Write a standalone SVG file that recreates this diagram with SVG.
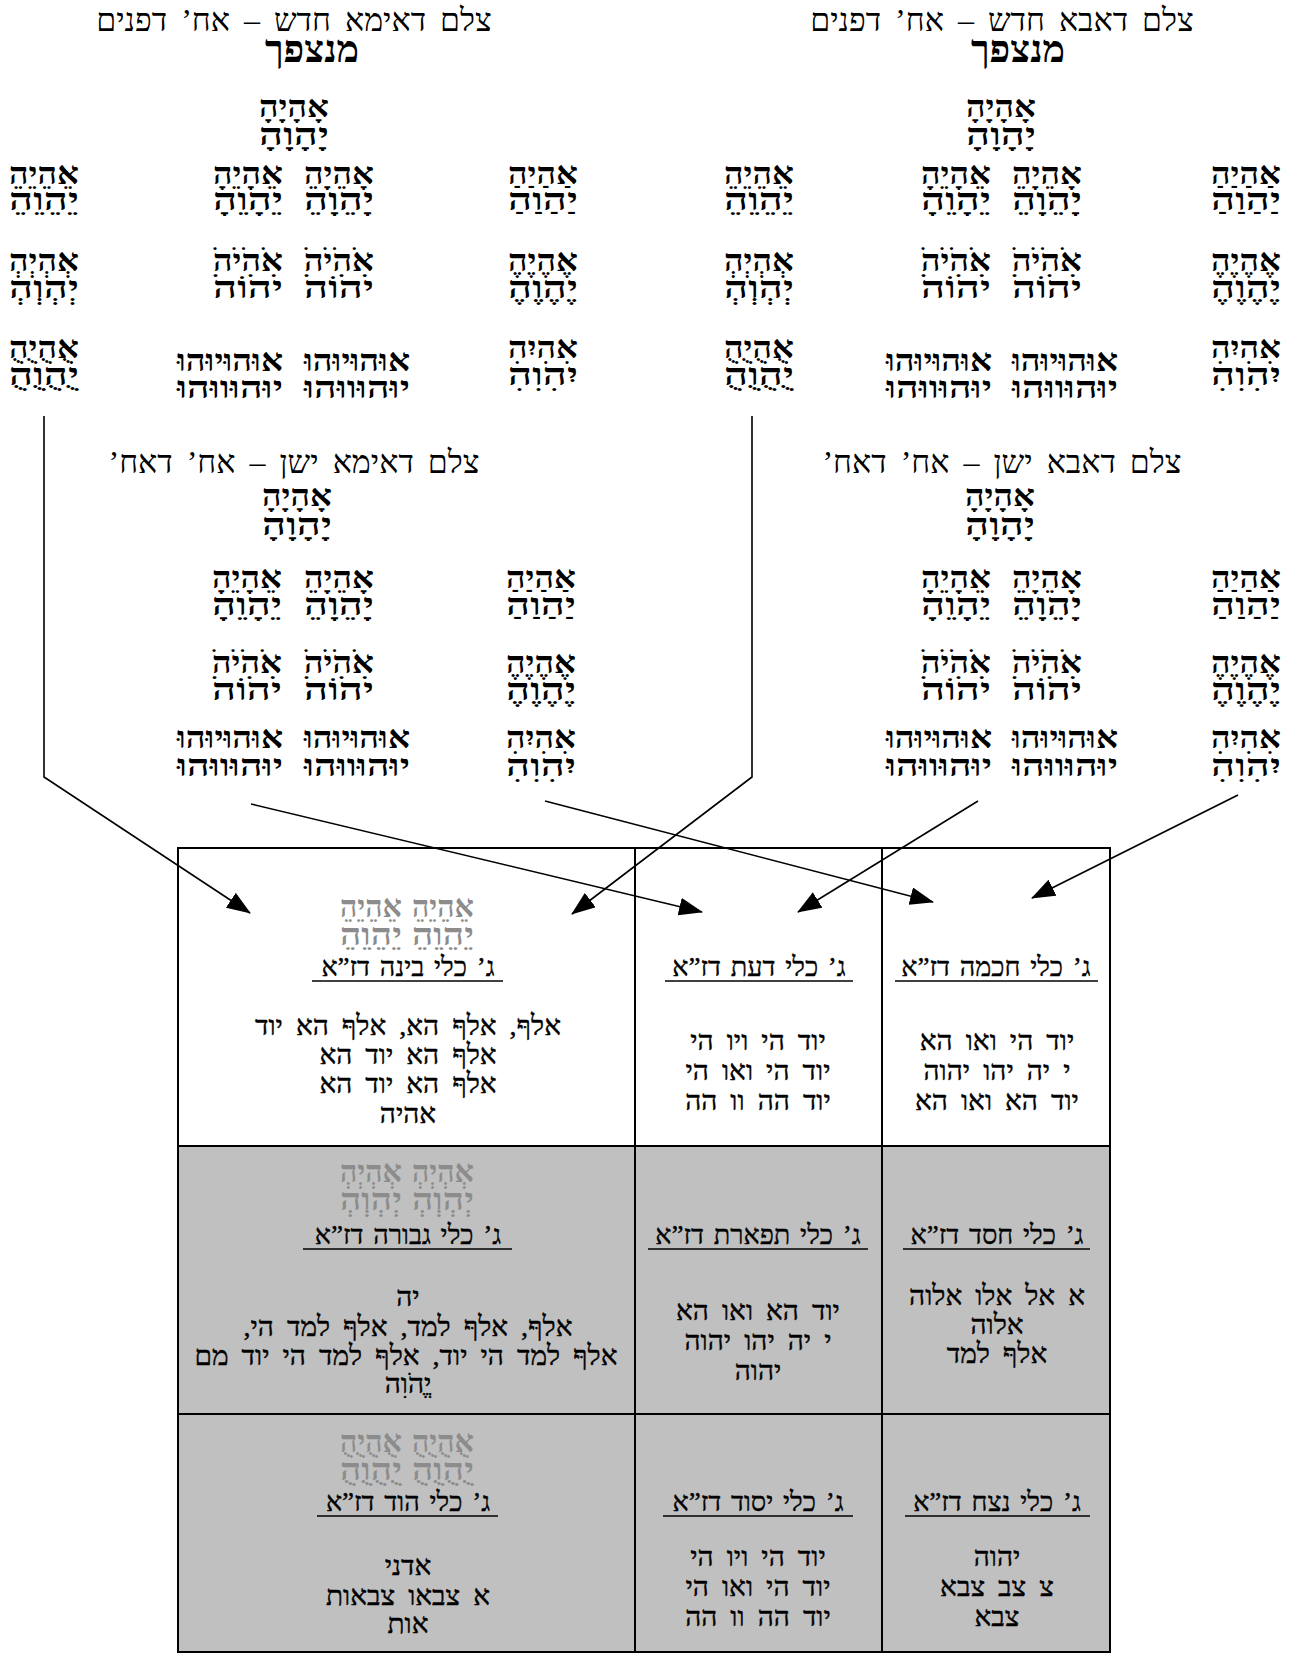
<svg xmlns="http://www.w3.org/2000/svg" width="1299" height="1658" viewBox="0 0 1299 1658">
<style>
text { direction: rtl; text-anchor: middle; font-family: "Liberation Serif", "DejaVu Serif", "DejaVu Sans", serif; fill: #000; }
.hdr { font-size: 32px; word-spacing: 6px; }
.mz { font-size: 38px; font-weight: bold; }
.nm { font-size: 31px; font-weight: bold; }
.ttl { font-size: 27px; word-spacing: 3px; stroke: #000; stroke-width: 0.35px; }
.bd { font-size: 28px; word-spacing: 6px; stroke: #000; stroke-width: 0.4px; }
.gr { fill: #8c8c8c; }
.ul { stroke: #000; stroke-width: 1.5; }
.cell { stroke: #000; stroke-width: 2; }
.con { fill: none; stroke: #000; stroke-width: 1.6; }
</style>
<defs>
<marker id="ah" markerUnits="userSpaceOnUse" markerWidth="24" markerHeight="18" refX="23" refY="9" orient="auto">
<path d="M0,0 L24,9 L0,18 z" fill="#000"/>
</marker>
</defs>
<rect width="1299" height="1658" fill="#fff"/>

<!-- Top-left: צלם דאימא חדש -->
<g id="tzelem-ima-chadash">
<text class="hdr" x="294" y="31">צלם דאימא חדש – אח’ דפנים</text>
<text class="mz" x="312" y="62">מנצפך</text>
<g id="ima-chadash-top"><text class="nm" x="294" y="117" textLength="70" lengthAdjust="spacingAndGlyphs">אָהָיָהָ</text><text class="nm" x="294" y="145" textLength="70" lengthAdjust="spacingAndGlyphs">יָהָוָהָ</text></g>
<g id="ima-chadash-r1l"><text class="nm" x="44" y="184" textLength="70" lengthAdjust="spacingAndGlyphs">אֵהֵיֵהֵ</text><text class="nm" x="44" y="210" textLength="70" lengthAdjust="spacingAndGlyphs">יֵהֵוֵהֵ</text></g>
<g id="ima-chadash-r1c"><text class="nm" x="339" y="184" textLength="70" lengthAdjust="spacingAndGlyphs">אָהֵיָהֵ</text><text class="nm" x="339" y="210" textLength="70" lengthAdjust="spacingAndGlyphs">יָהֵוָהֵ</text><text class="nm" x="248" y="184" textLength="70" lengthAdjust="spacingAndGlyphs">אֵהָיֵהָ</text><text class="nm" x="248" y="210" textLength="70" lengthAdjust="spacingAndGlyphs">יֵהָוֵהָ</text></g>
<g id="ima-chadash-r1r"><text class="nm" x="543" y="184" textLength="70" lengthAdjust="spacingAndGlyphs">אַהַיַהַ</text><text class="nm" x="543" y="210" textLength="70" lengthAdjust="spacingAndGlyphs">יַהַוַהַ</text></g>
<g id="ima-chadash-r2l"><text class="nm" x="44" y="271" textLength="70" lengthAdjust="spacingAndGlyphs">אְהְיְהְ</text><text class="nm" x="44" y="298" textLength="70" lengthAdjust="spacingAndGlyphs">יְהְוְהְ</text></g>
<g id="ima-chadash-r2c"><text class="nm" x="339" y="271" textLength="70" lengthAdjust="spacingAndGlyphs">אֹהֹיֹהֹ</text><text class="nm" x="339" y="298" textLength="70" lengthAdjust="spacingAndGlyphs">יֹהֹוֹהֹ</text><text class="nm" x="248" y="271" textLength="70" lengthAdjust="spacingAndGlyphs">אֹהֹיֹהֹ</text><text class="nm" x="248" y="298" textLength="70" lengthAdjust="spacingAndGlyphs">יֹהֹוֹהֹ</text></g>
<g id="ima-chadash-r2r"><text class="nm" x="543" y="271" textLength="70" lengthAdjust="spacingAndGlyphs">אֶהֶיֶהֶ</text><text class="nm" x="543" y="298" textLength="70" lengthAdjust="spacingAndGlyphs">יֶהֶוֶהֶ</text></g>
<g id="ima-chadash-r3l"><text class="nm" x="44" y="358" textLength="70" lengthAdjust="spacingAndGlyphs">אֻהֻיֻהֻ</text><text class="nm" x="44" y="385" textLength="70" lengthAdjust="spacingAndGlyphs">יֻהֻוֻהֻ</text></g>
<g id="ima-chadash-r3c"><text class="nm" x="357" y="371" textLength="106" lengthAdjust="spacingAndGlyphs">אוּהוּיוּהוּ</text><text class="nm" x="357" y="398" textLength="106" lengthAdjust="spacingAndGlyphs">יוּהוּווּהוּ</text><text class="nm" x="230" y="371" textLength="106" lengthAdjust="spacingAndGlyphs">אוּהוּיוּהוּ</text><text class="nm" x="230" y="398" textLength="106" lengthAdjust="spacingAndGlyphs">יוּהוּווּהוּ</text></g>
<g id="ima-chadash-r3r"><text class="nm" x="543" y="358" textLength="70" lengthAdjust="spacingAndGlyphs">אִהִיִהִ</text><text class="nm" x="543" y="385" textLength="70" lengthAdjust="spacingAndGlyphs">יִהִוִהִ</text></g>
</g>

<!-- Top-right: צלם דאבא חדש -->
<g id="tzelem-aba-chadash">
<text class="hdr" x="1002" y="31">צלם דאבא חדש – אח’ דפנים</text>
<text class="mz" x="1018" y="62">מנצפך</text>
<g id="aba-chadash-top"><text class="nm" x="1001" y="117" textLength="70" lengthAdjust="spacingAndGlyphs">אָהָיָהָ</text><text class="nm" x="1001" y="145" textLength="70" lengthAdjust="spacingAndGlyphs">יָהָוָהָ</text></g>
<g id="aba-chadash-r1l"><text class="nm" x="759" y="184" textLength="70" lengthAdjust="spacingAndGlyphs">אֵהֵיֵהֵ</text><text class="nm" x="759" y="210" textLength="70" lengthAdjust="spacingAndGlyphs">יֵהֵוֵהֵ</text></g>
<g id="aba-chadash-r1c"><text class="nm" x="1047" y="184" textLength="70" lengthAdjust="spacingAndGlyphs">אָהֵיָהֵ</text><text class="nm" x="1047" y="210" textLength="70" lengthAdjust="spacingAndGlyphs">יָהֵוָהֵ</text><text class="nm" x="956" y="184" textLength="70" lengthAdjust="spacingAndGlyphs">אֵהָיֵהָ</text><text class="nm" x="956" y="210" textLength="70" lengthAdjust="spacingAndGlyphs">יֵהָוֵהָ</text></g>
<g id="aba-chadash-r1r"><text class="nm" x="1246" y="184" textLength="70" lengthAdjust="spacingAndGlyphs">אַהַיַהַ</text><text class="nm" x="1246" y="210" textLength="70" lengthAdjust="spacingAndGlyphs">יַהַוַהַ</text></g>
<g id="aba-chadash-r2l"><text class="nm" x="759" y="271" textLength="70" lengthAdjust="spacingAndGlyphs">אְהְיְהְ</text><text class="nm" x="759" y="298" textLength="70" lengthAdjust="spacingAndGlyphs">יְהְוְהְ</text></g>
<g id="aba-chadash-r2c"><text class="nm" x="1047" y="271" textLength="70" lengthAdjust="spacingAndGlyphs">אֹהֹיֹהֹ</text><text class="nm" x="1047" y="298" textLength="70" lengthAdjust="spacingAndGlyphs">יֹהֹוֹהֹ</text><text class="nm" x="956" y="271" textLength="70" lengthAdjust="spacingAndGlyphs">אֹהֹיֹהֹ</text><text class="nm" x="956" y="298" textLength="70" lengthAdjust="spacingAndGlyphs">יֹהֹוֹהֹ</text></g>
<g id="aba-chadash-r2r"><text class="nm" x="1246" y="271" textLength="70" lengthAdjust="spacingAndGlyphs">אֶהֶיֶהֶ</text><text class="nm" x="1246" y="298" textLength="70" lengthAdjust="spacingAndGlyphs">יֶהֶוֶהֶ</text></g>
<g id="aba-chadash-r3l"><text class="nm" x="759" y="358" textLength="70" lengthAdjust="spacingAndGlyphs">אֻהֻיֻהֻ</text><text class="nm" x="759" y="385" textLength="70" lengthAdjust="spacingAndGlyphs">יֻהֻוֻהֻ</text></g>
<g id="aba-chadash-r3c"><text class="nm" x="1065" y="371" textLength="106" lengthAdjust="spacingAndGlyphs">אוּהוּיוּהוּ</text><text class="nm" x="1065" y="398" textLength="106" lengthAdjust="spacingAndGlyphs">יוּהוּווּהוּ</text><text class="nm" x="939" y="371" textLength="106" lengthAdjust="spacingAndGlyphs">אוּהוּיוּהוּ</text><text class="nm" x="939" y="398" textLength="106" lengthAdjust="spacingAndGlyphs">יוּהוּווּהוּ</text></g>
<g id="aba-chadash-r3r"><text class="nm" x="1246" y="358" textLength="70" lengthAdjust="spacingAndGlyphs">אִהִיִהִ</text><text class="nm" x="1246" y="385" textLength="70" lengthAdjust="spacingAndGlyphs">יִהִוִהִ</text></g>
</g>

<!-- Middle-left: צלם דאימא ישן -->
<g id="tzelem-ima-yashan">
<text class="hdr" x="294" y="473">צלם דאימא ישן – אח’ דאח’</text>
<g id="ima-yashan-top"><text class="nm" x="297" y="506" textLength="70" lengthAdjust="spacingAndGlyphs">אָהָיָהָ</text><text class="nm" x="297" y="535" textLength="70" lengthAdjust="spacingAndGlyphs">יָהָוָהָ</text></g>
<g id="ima-yashan-r1c"><text class="nm" x="339" y="588" textLength="70" lengthAdjust="spacingAndGlyphs">אָהֵיָהֵ</text><text class="nm" x="339" y="615" textLength="70" lengthAdjust="spacingAndGlyphs">יָהֵוָהֵ</text><text class="nm" x="247" y="588" textLength="70" lengthAdjust="spacingAndGlyphs">אֵהָיֵהָ</text><text class="nm" x="247" y="615" textLength="70" lengthAdjust="spacingAndGlyphs">יֵהָוֵהָ</text></g>
<g id="ima-yashan-r1r"><text class="nm" x="541" y="588" textLength="70" lengthAdjust="spacingAndGlyphs">אַהַיַהַ</text><text class="nm" x="541" y="615" textLength="70" lengthAdjust="spacingAndGlyphs">יַהַוַהַ</text></g>
<g id="ima-yashan-r2c"><text class="nm" x="339" y="673" textLength="70" lengthAdjust="spacingAndGlyphs">אֹהֹיֹהֹ</text><text class="nm" x="339" y="700" textLength="70" lengthAdjust="spacingAndGlyphs">יֹהֹוֹהֹ</text><text class="nm" x="247" y="673" textLength="70" lengthAdjust="spacingAndGlyphs">אֹהֹיֹהֹ</text><text class="nm" x="247" y="700" textLength="70" lengthAdjust="spacingAndGlyphs">יֹהֹוֹהֹ</text></g>
<g id="ima-yashan-r2r"><text class="nm" x="541" y="673" textLength="70" lengthAdjust="spacingAndGlyphs">אֶהֶיֶהֶ</text><text class="nm" x="541" y="700" textLength="70" lengthAdjust="spacingAndGlyphs">יֶהֶוֶהֶ</text></g>
<g id="ima-yashan-r3c"><text class="nm" x="357" y="748" textLength="106" lengthAdjust="spacingAndGlyphs">אוּהוּיוּהוּ</text><text class="nm" x="357" y="776" textLength="106" lengthAdjust="spacingAndGlyphs">יוּהוּווּהוּ</text><text class="nm" x="230" y="748" textLength="106" lengthAdjust="spacingAndGlyphs">אוּהוּיוּהוּ</text><text class="nm" x="230" y="776" textLength="106" lengthAdjust="spacingAndGlyphs">יוּהוּווּהוּ</text></g>
<g id="ima-yashan-r3r"><text class="nm" x="541" y="748" textLength="70" lengthAdjust="spacingAndGlyphs">אִהִיִהִ</text><text class="nm" x="541" y="776" textLength="70" lengthAdjust="spacingAndGlyphs">יִהִוִהִ</text></g>
</g>

<!-- Middle-right: צלם דאבא ישן -->
<g id="tzelem-aba-yashan">
<text class="hdr" x="1002" y="473">צלם דאבא ישן – אח’ דאח’</text>
<g id="aba-yashan-top"><text class="nm" x="1000" y="506" textLength="70" lengthAdjust="spacingAndGlyphs">אָהָיָהָ</text><text class="nm" x="1000" y="535" textLength="70" lengthAdjust="spacingAndGlyphs">יָהָוָהָ</text></g>
<g id="aba-yashan-r1c"><text class="nm" x="1047" y="588" textLength="70" lengthAdjust="spacingAndGlyphs">אָהֵיָהֵ</text><text class="nm" x="1047" y="615" textLength="70" lengthAdjust="spacingAndGlyphs">יָהֵוָהֵ</text><text class="nm" x="956" y="588" textLength="70" lengthAdjust="spacingAndGlyphs">אֵהָיֵהָ</text><text class="nm" x="956" y="615" textLength="70" lengthAdjust="spacingAndGlyphs">יֵהָוֵהָ</text></g>
<g id="aba-yashan-r1r"><text class="nm" x="1246" y="588" textLength="70" lengthAdjust="spacingAndGlyphs">אַהַיַהַ</text><text class="nm" x="1246" y="615" textLength="70" lengthAdjust="spacingAndGlyphs">יַהַוַהַ</text></g>
<g id="aba-yashan-r2c"><text class="nm" x="1047" y="673" textLength="70" lengthAdjust="spacingAndGlyphs">אֹהֹיֹהֹ</text><text class="nm" x="1047" y="700" textLength="70" lengthAdjust="spacingAndGlyphs">יֹהֹוֹהֹ</text><text class="nm" x="956" y="673" textLength="70" lengthAdjust="spacingAndGlyphs">אֹהֹיֹהֹ</text><text class="nm" x="956" y="700" textLength="70" lengthAdjust="spacingAndGlyphs">יֹהֹוֹהֹ</text></g>
<g id="aba-yashan-r2r"><text class="nm" x="1246" y="673" textLength="70" lengthAdjust="spacingAndGlyphs">אֶהֶיֶהֶ</text><text class="nm" x="1246" y="700" textLength="70" lengthAdjust="spacingAndGlyphs">יֶהֶוֶהֶ</text></g>
<g id="aba-yashan-r3c"><text class="nm" x="1065" y="748" textLength="106" lengthAdjust="spacingAndGlyphs">אוּהוּיוּהוּ</text><text class="nm" x="1065" y="776" textLength="106" lengthAdjust="spacingAndGlyphs">יוּהוּווּהוּ</text><text class="nm" x="939" y="748" textLength="106" lengthAdjust="spacingAndGlyphs">אוּהוּיוּהוּ</text><text class="nm" x="939" y="776" textLength="106" lengthAdjust="spacingAndGlyphs">יוּהוּווּהוּ</text></g>
<g id="aba-yashan-r3r"><text class="nm" x="1246" y="748" textLength="70" lengthAdjust="spacingAndGlyphs">אִהִיִהִ</text><text class="nm" x="1246" y="776" textLength="70" lengthAdjust="spacingAndGlyphs">יִהִוִהִ</text></g>
</g>

<!-- Table -->
<g id="table">
<rect x="178" y="1146" width="932" height="506" fill="#c0c0c0"/>
<rect x="178" y="848" width="932" height="804" fill="none" class="cell"/>
<line class="cell" x1="635" y1="848" x2="635" y2="1652"/>
<line class="cell" x1="882" y1="848" x2="882" y2="1652"/>
<line class="cell" x1="178" y1="1146" x2="1110" y2="1146"/>
<line class="cell" x1="178" y1="1414" x2="1110" y2="1414"/>
</g>

<g id="cell-bina">
<text class="nm gr" x="443" y="917" textLength="62" lengthAdjust="spacingAndGlyphs">אֵהֵיֵהֵ</text><text class="nm gr" x="371" y="917" textLength="62" lengthAdjust="spacingAndGlyphs">אֵהֵיֵהֵ</text>
<text class="nm gr" x="443" y="945" textLength="62" lengthAdjust="spacingAndGlyphs">יֵהֵוֵהֵ</text><text class="nm gr" x="371" y="945" textLength="62" lengthAdjust="spacingAndGlyphs">יֵהֵוֵהֵ</text>
<text class="ttl" x="408" y="976">ג’ כלי בינה דז”א</text>
<line class="ul" x1="312" y1="981" x2="503" y2="981"/>
<text class="bd" x="408" y="1035">אלףּ, אלףּ הא, אלףּ הא יוד</text>
<text class="bd" x="408" y="1064">אלףּ הא יוד הא</text>
<text class="bd" x="408" y="1093">אלףּ הא יוד הא</text>
<text class="bd" x="408" y="1123">אהיה</text>
</g>
<g id="cell-daat">
<text class="ttl" x="759" y="976">ג’ כלי דעת דז”א</text>
<line class="ul" x1="665" y1="981" x2="853" y2="981"/>
<text class="bd" x="758" y="1050">יוד הי ויו הי</text>
<text class="bd" x="758" y="1080">יוד הי ואו הי</text>
<text class="bd" x="758" y="1110">יוד הה וו הה</text>
</g>
<g id="cell-chochma">
<text class="ttl" x="996" y="976">ג’ כלי חכמה דז”א</text>
<line class="ul" x1="895" y1="981" x2="1098" y2="981"/>
<text class="bd" x="997" y="1050">יוד הי ואו הא</text>
<text class="bd" x="997" y="1080">י יה יהו יהוה</text>
<text class="bd" x="997" y="1110">יוד הא ואו הא</text>
</g>

<g id="cell-gevura">
<text class="nm gr" x="443" y="1182" textLength="62" lengthAdjust="spacingAndGlyphs">אְהְיְהְ</text><text class="nm gr" x="371" y="1182" textLength="62" lengthAdjust="spacingAndGlyphs">אְהְיְהְ</text>
<text class="nm gr" x="443" y="1210" textLength="62" lengthAdjust="spacingAndGlyphs">יְהְוְהְ</text><text class="nm gr" x="371" y="1210" textLength="62" lengthAdjust="spacingAndGlyphs">יְהְוְהְ</text>
<text class="ttl" x="408" y="1244">ג’ כלי גבורה דז”א</text>
<line class="ul" x1="303" y1="1249" x2="512" y2="1249"/>
<text class="bd" x="408" y="1306">יה</text>
<text class="bd" x="408" y="1336">אלףּ, אלףּ למד, אלףּ למד הי,</text>
<text class="bd" x="406" y="1365">אלףּ למד הי יוד, אלףּ למד הי יוד מם</text>
<text class="bd" x="408" y="1393">יֱהֹוִה</text>
</g>
<g id="cell-tiferet">
<text class="ttl" x="758" y="1244">ג’ כלי תפארת דז”א</text>
<line class="ul" x1="648" y1="1249" x2="868" y2="1249"/>
<text class="bd" x="758" y="1320">יוד הא ואו הא</text>
<text class="bd" x="758" y="1350">י יה יהו יהוה</text>
<text class="bd" x="758" y="1380">יהוה</text>
</g>
<g id="cell-chesed">
<text class="ttl" x="997" y="1244">ג’ כלי חסד דז”א</text>
<line class="ul" x1="903" y1="1249" x2="1090" y2="1249"/>
<text class="bd" x="997" y="1305">א אל אלו אלוה</text>
<text class="bd" x="997" y="1334">אלוה</text>
<text class="bd" x="997" y="1363">אלףּ למד</text>
</g>

<g id="cell-hod">
<text class="nm gr" x="443" y="1452" textLength="62" lengthAdjust="spacingAndGlyphs">אֻהֻיֻהֻ</text><text class="nm gr" x="371" y="1452" textLength="62" lengthAdjust="spacingAndGlyphs">אֻהֻיֻהֻ</text>
<text class="nm gr" x="443" y="1480" textLength="62" lengthAdjust="spacingAndGlyphs">יֻהֻוֻהֻ</text><text class="nm gr" x="371" y="1480" textLength="62" lengthAdjust="spacingAndGlyphs">יֻהֻוֻהֻ</text>
<text class="ttl" x="408" y="1511">ג’ כלי הוד דז”א</text>
<line class="ul" x1="317" y1="1516" x2="498" y2="1516"/>
<text class="bd" x="408" y="1575">אדני</text>
<text class="bd" x="408" y="1605">א צבאו צבאות</text>
<text class="bd" x="408" y="1633">אות</text>
</g>
<g id="cell-yesod">
<text class="ttl" x="758" y="1511">ג’ כלי יסוד דז”א</text>
<line class="ul" x1="663" y1="1516" x2="853" y2="1516"/>
<text class="bd" x="758" y="1566">יוד הי ויו הי</text>
<text class="bd" x="758" y="1596">יוד הי ואו הי</text>
<text class="bd" x="758" y="1626">יוד הה וו הה</text>
</g>
<g id="cell-netzach">
<text class="ttl" x="997" y="1511">ג’ כלי נצח דז”א</text>
<line class="ul" x1="905" y1="1516" x2="1090" y2="1516"/>
<text class="bd" x="997" y="1566">יהוה</text>
<text class="bd" x="997" y="1596">צ צב צבא</text>
<text class="bd" x="997" y="1626">צבא</text>
</g>

<g id="connectors">
<path class="con" marker-end="url(#ah)" d="M44,416 V777 L250,913"/>
<path class="con" marker-end="url(#ah)" d="M752,416 V777 L572,914"/>
<path class="con" marker-end="url(#ah)" d="M251,804 L702,912"/>
<path class="con" marker-end="url(#ah)" d="M545,801 L933,902"/>
<path class="con" marker-end="url(#ah)" d="M978,801 L798,912"/>
<path class="con" marker-end="url(#ah)" d="M1238,795 L1032,898"/>
</g>
</svg>
